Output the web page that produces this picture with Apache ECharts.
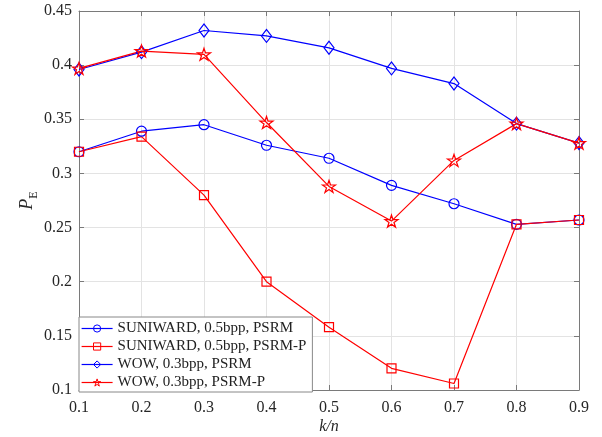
<!DOCTYPE html>
<html>
<head>
<meta charset="utf-8">
<script src="https://cdn.jsdelivr.net/npm/echarts@6/dist/echarts.min.js"></script>
<style>html,body{margin:0;padding:0;background:#fff;}#c{width:602px;height:437px;}</style>
</head>
<body>
<div id="c"></div>
<script>
const kn = [0.1, 0.2, 0.3, 0.4, 0.5, 0.6, 0.7, 0.8, 0.9];
const suniPSRM  = [0.320, 0.339, 0.345, 0.326, 0.314, 0.289, 0.272, 0.253, 0.257];
const suniPSRMP = [0.320, 0.334, 0.280, 0.200, 0.158, 0.120, 0.106, 0.253, 0.257];
const wowPSRM   = [0.396, 0.412, 0.432, 0.427, 0.416, 0.397, 0.383, 0.346, 0.328];
const wowPSRMP  = [0.397, 0.413, 0.410, 0.347, 0.288, 0.256, 0.312, 0.346, 0.328];
const names = ['SUNIWARD, 0.5bpp, PSRM', 'SUNIWARD, 0.5bpp, PSRM-P', 'WOW, 0.3bpp, PSRM', 'WOW, 0.3bpp, PSRM-P'];
const colors = ['#0000ff', '#ff0000', '#0000ff', '#ff0000'];

const STAR = 'path://M50 0 L61.23 34.55 L97.55 34.55 L68.16 55.9 L79.39 90.45 L50 69.1 L20.61 90.45 L31.84 55.9 L2.45 34.55 L38.77 34.55 Z';
const pairs = arr => kn.map((x, i) => [x, arr[i]]);
const fmt = v => String(parseFloat(v.toFixed(2)));
const FONT = 'Liberation Serif';
const AX = '#7a7a7a';
const CLEAR = 'rgba(0,0,0,0)';

function mk(name, data, color, symbol, size) {
  return {
    name, type: 'line', data: pairs(data), symbol, symbolSize: size,
    lineStyle: { color, width: 1.2 },
    itemStyle: { color: CLEAR, borderColor: color, borderWidth: 1.2 },
    emphasis: { disabled: true }, animation: false, z: 3
  };
}

const chart = echarts.init(document.getElementById('c'));
chart.setOption({
  backgroundColor: '#fff',
  animation: false,
  grid: { left: 79, right: 23, top: 11, bottom: 47, outerBoundsMode: 'none', containLabel: false },
  legend: {
    orient: 'vertical', left: 79, top: 317,
    data: names.map((n, i) => ({
      name: n,
      itemStyle: { color: CLEAR, borderColor: colors[i], borderWidth: 1 },
      lineStyle: { color: colors[i], width: 1.2 }
    })),
    itemWidth: 31, itemHeight: 9, itemGap: 3,
    padding: [4, 6, 2, 2],
    backgroundColor: '#fff', borderColor: '#888', borderWidth: 1,
    textStyle: { fontFamily: FONT, fontSize: 15, color: '#222' },
    selectedMode: false
  },
  xAxis: [{
    type: 'value', min: 0.1, max: 0.9, interval: 0.1,
    name: 'k/n', nameLocation: 'middle', nameGap: 29, nameMoveOverlap: false,
    nameTextStyle: { fontFamily: FONT, fontSize: 16, fontStyle: 'italic', color: '#262626' },
    axisLine: { show: true, lineStyle: { color: AX } },
    axisTick: { show: true, inside: true, length: 5, lineStyle: { color: AX } },
    axisLabel: { formatter: fmt, fontFamily: FONT, fontSize: 16, color: '#262626', margin: 10 },
    splitLine: { show: true, lineStyle: { color: '#e3e3e3' } }
  }, {
    type: 'value', position: 'top', min: 0.1, max: 0.9, interval: 0.1,
    axisLine: { show: true, lineStyle: { color: AX } },
    axisTick: { show: true, inside: true, length: 5, lineStyle: { color: AX } },
    axisLabel: { show: false }, splitLine: { show: false }
  }],
  yAxis: [{
    type: 'value', min: 0.1, max: 0.45, interval: 0.05,
    name: '{p|P}{e|E}', nameLocation: 'middle', nameGap: 43, nameRotate: 90, nameMoveOverlap: false,
    nameTextStyle: {
      rich: {
        p: { fontFamily: FONT, fontSize: 18, fontStyle: 'italic', color: '#262626', lineHeight: 22, verticalAlign: 'bottom' },
        e: { fontFamily: FONT, fontSize: 12, color: '#262626', lineHeight: 22, verticalAlign: 'bottom', padding: [0, 0, -4, 0] }
      }
    },
    axisLine: { show: true, lineStyle: { color: AX } },
    axisTick: { show: true, inside: true, length: 5, lineStyle: { color: AX } },
    axisLabel: { formatter: fmt, fontFamily: FONT, fontSize: 16, color: '#262626', margin: 7 },
    splitLine: { show: true, lineStyle: { color: '#e3e3e3' } }
  }, {
    type: 'value', position: 'right', min: 0.1, max: 0.45, interval: 0.05,
    axisLine: { show: true, lineStyle: { color: AX } },
    axisTick: { show: true, inside: true, length: 5, lineStyle: { color: AX } },
    axisLabel: { show: false }, splitLine: { show: false }
  }],
  series: [
    mk(names[0], suniPSRM, colors[0], 'circle', 10),
    mk(names[1], suniPSRMP, colors[1], 'rect', 9),
    mk(names[2], wowPSRM, colors[2], 'diamond', [10, 13]),
    mk(names[3], wowPSRMP, colors[3], STAR, [13, 12])
  ]
});
</script>
</body>
</html>
